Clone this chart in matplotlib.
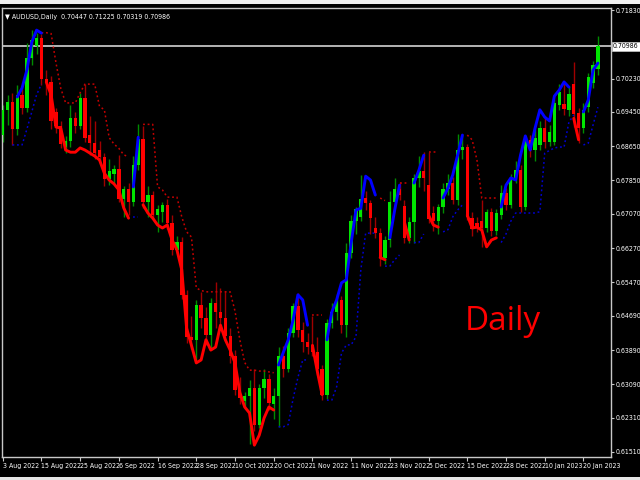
import matplotlib
matplotlib.use("Agg")
import matplotlib.pyplot as plt
from matplotlib import font_manager as fm
from matplotlib.patches import Rectangle
import numpy as np

# AUDUSD daily bars, 3 Aug 2022 .. 25 Jan 2023
opens = [
    .6890, .6950, .6968, .6905, .6985, .6955, .7070, .7100, .7118, .7022,
    .7015, .6945, .6912, .6862, .6878, .6930, .6912, .6978, .6890, .6872,
    .6855, .6840, .6788, .6800, .6812, .6742, .6765, .6735, .6822, .6882,
    .6735, .6750, .6705, .6712, .6728, .6685, .6622, .6642, .6518, .6420,
    .6412, .6495, .6465, .6425, .6500, .6478, .6465, .6422, .6375, .6295,
    .6270, .6282, .6300, .6215, .6300, .6322, .6262, .6282, .6375, .6345,
    .6430, .6492, .6435, .6408, .6400, .6385, .6345, .6285, .6452, .6478,
    .6505, .6448, .6615, .6690, .6700, .6744, .6732, .6675, .6662, .6604,
    .6645, .6735, .6765, .6725, .6650, .6688, .6790, .6808, .6775, .6710,
    .6690, .6722, .6765, .6780, .6740, .6856, .6862, .6698, .6685, .6690,
    .6675, .6712, .6668, .6705, .6755, .6728, .6790, .6810, .6722, .6880,
    .6855, .6868, .6907, .6875, .6875, .6962, .6964, .6950, .7010, .6942,
    .6907, .6956, .7013, .70447,
]
highs = [
    .6962, .6985, .6990, .7008, .6998, .7105, .7136, .7130, .7128, .7042,
    .7030, .6955, .6925, .6888, .6962, .6945, .6990, .7010, .6935, .6925,
    .6878, .6850, .6835, .6822, .6845, .6772, .6778, .6842, .6916, .6912,
    .6772, .6760, .6728, .6735, .6742, .6705, .6655, .6652, .6530, .6468,
    .6505, .6525, .6490, .6510, .6547, .6535, .6528, .6440, .6390, .6325,
    .6292, .6320, .6345, .6310, .6345, .6332, .6300, .6395, .6398, .6440,
    .6500, .6522, .6455, .6430, .6468, .6420, .6355, .6462, .6500, .6520,
    .6515, .6640, .6705, .6722, .6797, .6760, .6740, .6700, .6675, .6655,
    .6760, .6790, .6782, .6740, .6700, .6800, .6842, .6852, .6851, .6725,
    .6730, .6778, .6800, .6792, .6893, .6890, .6870, .6712, .6700, .6740,
    .6718, .6720, .6718, .6775, .6768, .6800, .6830, .6820, .6885, .6890,
    .6905, .6925, .6930, .6915, .6975, .7010, .7015, .7005, .7062, .6955,
    .6965, .7035, .7063, .71225,
]
lows = [
    .6875, .6915, .6868, .6890, .6940, .6945, .7055, .7080, .7008, .6985,
    .6905, .6895, .6860, .6850, .6862, .6895, .6905, .6875, .6845, .6835,
    .6825, .6772, .6775, .6780, .6735, .6700, .6705, .6725, .6810, .6720,
    .6700, .6695, .6665, .6688, .6672, .6612, .6615, .6508, .6405, .6392,
    .6362, .6440, .6400, .6390, .6440, .6450, .6410, .6358, .6285, .6262,
    .6255, .6170, .6200, .6208, .6278, .6250, .6228, .6210, .6325, .6338,
    .6420, .6420, .6385, .6380, .6375, .6330, .6272, .6275, .6440, .6460,
    .6430, .6420, .6605, .6660, .6690, .6715, .6660, .6650, .6585, .6590,
    .6630, .6728, .6740, .6640, .6640, .6640, .6770, .6760, .6685, .6668,
    .6660, .6710, .6750, .6730, .6728, .6835, .6692, .6655, .6665, .6630,
    .6665, .6655, .6658, .6695, .6715, .6720, .6780, .6712, .6715, .6840,
    .6830, .6855, .6860, .6865, .6868, .6950, .6938, .6935, .6910, .6872,
    .6895, .6945, .7000, .70319,
]
closes = [
    .6950, .6968, .6905, .6985, .6955, .7070, .7112, .7118, .7022, .7015,
    .6925, .6912, .6870, .6878, .6930, .6912, .6978, .6885, .6872, .6848,
    .6840, .6788, .6808, .6812, .6742, .6765, .6735, .6822, .6882, .6735,
    .6750, .6705, .6718, .6728, .6685, .6622, .6642, .6518, .6420, .6412,
    .6495, .6465, .6425, .6500, .6478, .6465, .6422, .6375, .6295, .6278,
    .6282, .6300, .6215, .6300, .6322, .6265, .6282, .6375, .6345, .6430,
    .6492, .6435, .6408, .6395, .6385, .6345, .6285, .6452, .6478, .6505,
    .6448, .6615, .6690, .6718, .6742, .6732, .6697, .6662, .6604, .6645,
    .6735, .6765, .6752, .6650, .6688, .6790, .6808, .6790, .6695, .6690,
    .6722, .6765, .6780, .6740, .6856, .6862, .6700, .6672, .6675, .6675,
    .6712, .6668, .6710, .6755, .6728, .6790, .6810, .6722, .6880, .6855,
    .6885, .6907, .6875, .6898, .6966, .6992, .6952, .6987, .6940, .6907,
    .6950, .7027, .7055, .70986,
]

date_labels = ["3 Aug 2022", "15 Aug 2022", "25 Aug 2022", "6 Sep 2022",
               "16 Sep 2022", "28 Sep 2022", "10 Oct 2022", "20 Oct 2022",
               "1 Nov 2022", "11 Nov 2022", "23 Nov 2022", "5 Dec 2022",
               "15 Dec 2022", "28 Dec 2022", "10 Jan 2023", "20 Jan 2023"]
price_ticks = [0.71830, 0.70230, 0.69450, 0.68650, 0.67850, 0.67070, 0.66270,
               0.65470, 0.64690, 0.63890, 0.63090, 0.62310, 0.61510]
last_price = 0.70986

# trend line: (direction, first bar, values) - 'u' blue, 'd' red
trend_runs = [
    ("u", 3, [.6980, .7001, .7043, .7108, .7136, .7129]),
    ("d", 9, [.7015, .6985, .6910, .6907, .6856, .6851, .6851, .6861, .6856,
              .6849, .6842, .6833, .6802, .6786, .6777, .6763, .6721, .6697]),
    ("u", 27, [.6770, .6886]),
    ("d", 29, [.6728, .6709, .6697, .6681, .6674, .6681, .6646, .6623, .6576,
               .6440, .6400, .6359, .6366, .6413, .6389, .6396, .6447, .6413,
               .6389, .6359, .6290, .6256, .6242, .6167, .6190, .6230, .6256,
               .6249]),
    ("u", 57, [.6354, .6384, .6413, .6459, .6518, .6506, .6447]),
    ("d", 64, [.6400, .6340, .6285]),
    ("u", 67, [.6413, .6478, .6506, .6546, .6553, .6639, .6716, .6720, .6795,
               .6786, .6751]),
    ("d", 78, [.6605, .6600]),
    ("u", 80, [.6651, .6716, .6774]),
    ("d", 83, [.6688, .6646]),
    ("u", 85, [.6779, .6809, .6844]),
    ("d", 88, [.6704, .6681, .6676]),
    ("u", 91, [.6744, .6767, .6798, .6844, .6891]),
    ("d", 96, [.6704, .6674, .6676, .6669, .6630, .6646, .6651]),
    ("u", 103, [.6723, .6774, .6791, .6786, .6844, .6889, .6856, .6907, .6950,
                .6933, .6924, .6982, .6996, .7015, .7003]),
    ("d", 118, [.6930, .6880]),
    ("u", 120, [.6945, .6973, .7043, .7059]),
]

# red dotted resistance: (first bar, values)
upper_runs = [
    (8, [.7130, .7130, .7128, .7060, .7000, .6966, .6966, .6966, .6990, .7010,
         .7010, .7010, .6958, .6950, .6885, .6870, .6860, .6845, .6840]),
    (29, [.6916, .6916, .6916, .6770, .6763, .6746, .6746, .6746, .6700, .6665,
          .6653, .6534, .6528, .6525, .6525, .6525, .6525, .6525, .6525, .6480,
          .6413, .6360, .6342, .6342, .6340, .6340, .6338, .6336]),
    (64, [.6470, .6470, .6470]),
    (78, [.6744, .6738]),
    (82, [.6779, .6779, .6779]),
    (88, [.6851, .6851, .6851]),
    (96, [.6891, .6880, .6833, .6744, .6744, .6744, .6744]),
]

# blue dotted support: (first bar, values)
lower_runs = [
    (2, [.6868, .6868, .6868, .6905, .6945, .6985, .7010]),
    (27, [.6700, .6700]),
    (57, [.6210, .6210, .6215, .6275, .6325, .6366, .6366]),
    (67, [.6272, .6272, .6303, .6382, .6401, .6401, .6420, .6576, .6662, .6662,
          .6662]),
    (79, [.6585, .6585, .6600, .6611]),
    (85, [.6640, .6640, .6660]),
    (91, [.6665, .6670, .6700, .6716, .6728]),
    (103, [.6640, .6660, .6690, .6709, .6709, .6709, .6709, .6709, .6712, .6849,
           .6855, .6861, .6863, .6863, .6921, .6938]),
    (120, [.6868, .6872, .6915, .6956]),
]

# narrow terminal-like font for the small labels, if one is installed
narrow = {}
for path in fm.findSystemFonts():
    narrow[path.rsplit("/", 1)[-1]] = path
if "LiberationSansNarrow-Regular.ttf" in narrow:
    small = fm.FontProperties(fname=narrow["LiberationSansNarrow-Regular.ttf"], size=5.6)
elif "DejaVuSansCondensed.ttf" in narrow:
    small = fm.FontProperties(fname=narrow["DejaVuSansCondensed.ttf"], size=5.0)
else:
    small = fm.FontProperties(family="Liberation Sans", size=4.7)

o = np.array(opens)
h = np.array(highs)
l = np.array(lows)
c = np.array(closes)
x = np.arange(len(c))
up = c >= o

fig = plt.figure(figsize=(6.4, 4.8), dpi=100, facecolor="black")
ax = fig.add_axes([2 / 640, 23 / 480, 609 / 640, 449 / 480], facecolor="black")

ax.axhline(last_price, color="#B4B4B4", lw=1.4, zorder=1)

# candles
ax.vlines(x, l, h, colors=np.where(up, "#008C00", "#A00000"), lw=1.0, zorder=2)
ax.bar(x, np.maximum(np.abs(c - o), 0.00015), bottom=np.minimum(o, c),
       width=0.68, color=np.where(up, "#00E600", "#FF0000"), lw=0, zorder=3)

for start, vals in upper_runs:
    ax.plot(range(start, start + len(vals)), vals, color="#C80000", lw=1.1,
            ls=(0, (1.2, 1.8)), zorder=4)
for start, vals in lower_runs:
    ax.plot(range(start, start + len(vals)), vals, color="#0000D0", lw=1.1,
            ls=(0, (1.2, 1.8)), zorder=4)
for d, start, vals in trend_runs:
    ax.plot(range(start, start + len(vals)), vals,
            color="#0000FF" if d == "u" else "#FF0000", lw=2.1, zorder=5,
            solid_capstyle="round", solid_joinstyle="round")

ax.set_xlim(-0.15, 125.7)
ax.set_ylim(0.61393, 0.71877)

ax.set_xticks(range(0, len(c), 8))
ax.set_xticklabels(date_labels, ha="left")
ax.yaxis.tick_right()
ax.set_yticks(price_ticks)
ax.set_yticklabels([f"{v:.5f}" for v in price_ticks])
ax.tick_params(axis="x", colors="#C8C8C8", labelcolor="white", length=3, pad=1)
ax.tick_params(axis="y", colors="#C8C8C8", labelcolor="white", length=2, pad=1)
for lbl in ax.get_xticklabels() + ax.get_yticklabels():
    lbl.set_fontproperties(small)
for sp in ax.spines.values():
    sp.set_color("#C8C8C8")
    sp.set_linewidth(1)

ax.annotate(f"{last_price:.5f}", xy=(1, last_price),
            xycoords=("axes fraction", "data"), xytext=(1.5, 0),
            textcoords="offset points", ha="left", va="center",
            fontproperties=small, color="black", annotation_clip=False,
            bbox=dict(boxstyle="square,pad=0.2", fc="white", ec="#C8C8C8", lw=0.5))

ax.text(0.005, 0.98,
        f"\u25bc AUDUSD,Daily  {opens[-1]:.5f} {highs[-1]:.5f} {lows[-1]:.5f} {closes[-1]:.5f}",
        transform=ax.transAxes, color="white", fontproperties=small, va="center")

fig.text(465 / 640, 1 - 322 / 480, "Daily", color="#FF0000", fontsize=24,
         family="Open Sans", va="center", ha="left")

# window chrome strips
fig.patches.append(Rectangle((0, 1 - 4 / 480), 1, 4 / 480, transform=fig.transFigure,
                             fc="#F0F0F0", ec="none"))
fig.patches.append(Rectangle((0, 0), 1, 3 / 480, transform=fig.transFigure,
                             fc="#E6E6E6", ec="none"))

fig.savefig("out.png", dpi=100, facecolor="black")
